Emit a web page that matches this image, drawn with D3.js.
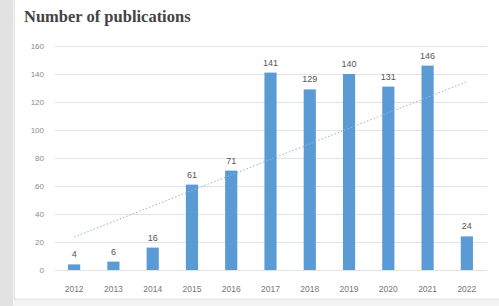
<!DOCTYPE html>
<html>
<head>
<meta charset="utf-8">
<script src="https://cdn.jsdelivr.net/npm/d3@7"></script>
<style>
  body { margin: 0; background: #f3f3f3; }
</style>
</head>
<body>
<div id="chart"></div>
<script>
const years = ["2012", "2013", "2014", "2015", "2016", "2017", "2018", "2019", "2020", "2021", "2022"];
const publications = [4, 6, 16, 61, 71, 141, 129, 140, 131, 146, 24];
const yTicks = [0, 20, 40, 60, 80, 100, 120, 140, 160];

let width = 499,
    height = 306;

const svg = d3.select("#chart").append("svg")
  .attr("width", width)
  .attr("height", height);

// page background bits
svg.append("rect").attr("x", 0).attr("y", 0).attr("width", 13).attr("height", height).attr("fill", "#e2e2e2");
svg.append("rect").attr("x", 14.5).attr("y", -1).attr("width", 490).attr("height", 300)
  .attr("fill", "#fff").attr("stroke", "#e4e4e4");

const x = d3.scaleBand().domain(years).range([54.5, 486.5]).paddingInner(0.69).paddingOuter(0.345);
const y = d3.scaleLinear().domain([0, 160]).range([270, 46]);

svg.append("text")
  .attr("x", 24).attr("y", 22)
  .style("font-family", "'Liberation Serif', serif")
  .style("font-weight", "bold")
  .style("font-size", "16.5px")
  .style("fill", "#444")
  .text("Number of publications");

// gridlines
svg.selectAll("line.grid")
  .data(yTicks)
  .enter()
  .append("line")
  .attr("x1", 55).attr("x2", 487)
  .attr("y1", d => Math.round(y(d)) + 0.5)
  .attr("y2", d => Math.round(y(d)) + 0.5)
  .style("stroke", "#e3e3e3")
  .style("stroke-width", 1);

// y labels
svg.selectAll("text.ylab")
  .data(yTicks)
  .enter()
  .append("text")
  .attr("x", 44).attr("y", d => y(d) + 3)
  .attr("text-anchor", "end")
  .style("font-family", "'Liberation Sans', sans-serif")
  .style("font-size", "8px")
  .style("fill", "#8a8a8a")
  .text(d => d);

// bars
svg.selectAll("rect.bar")
  .data(publications)
  .enter()
  .append("rect")
  .attr("x", (d, i) => x(years[i]))
  .attr("width", x.bandwidth())
  .attr("y", d => y(d))
  .attr("height", d => y(0) - y(d))
  .style("fill", "#5b9bd5");

// value labels
svg.selectAll("text.val")
  .data(publications)
  .enter()
  .append("text")
  .attr("x", (d, i) => x(years[i]) + x.bandwidth() / 2)
  .attr("y", d => y(d) - 7)
  .attr("text-anchor", "middle")
  .style("font-family", "'Liberation Sans', sans-serif")
  .style("font-size", "9px")
  .style("fill", "#555")
  .text(d => d);

// x labels
svg.selectAll("text.xlab")
  .data(years)
  .enter()
  .append("text")
  .attr("x", d => x(d) + x.bandwidth() / 2)
  .attr("y", 292)
  .attr("text-anchor", "middle")
  .style("font-family", "'Liberation Sans', sans-serif")
  .style("font-size", "8.5px")
  .style("fill", "#777")
  .text(d => d);

// linear trendline (least squares over the counts)
const n = publications.length;
const mx = d3.mean(d3.range(n));
const my = d3.mean(publications);
const slope = d3.sum(publications, (v, i) => (i - mx) * (v - my)) / d3.sum(d3.range(n), i => (i - mx) * (i - mx));
const icpt = my - slope * mx;
const trend = [0, n - 1].map(i => [x(years[i]) + x.bandwidth() / 2, y(icpt + slope * i)]);

svg.append("path")
  .attr("d", d3.line()(trend))
  .style("fill", "none")
  .style("stroke", "#94b3d8")
  .style("stroke-width", 1)
  .style("stroke-dasharray", "1.5,2");
</script>
</body>
</html>
